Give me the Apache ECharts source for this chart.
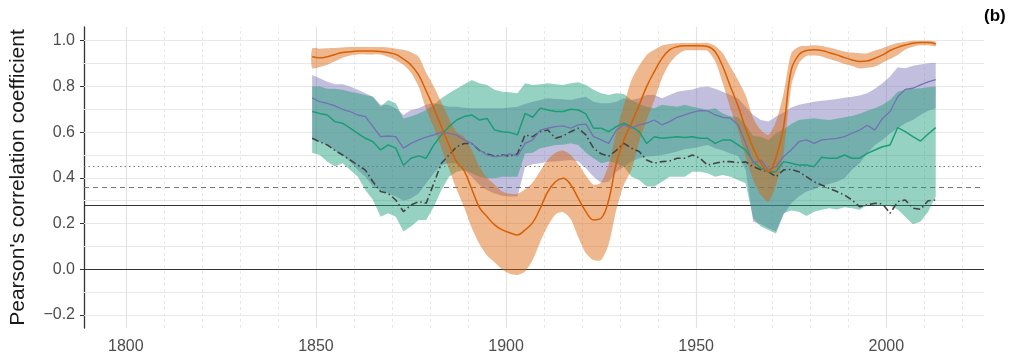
<!DOCTYPE html>
<html>
<head>
<meta charset="utf-8">
<script src="https://cdn.jsdelivr.net/npm/echarts@6/dist/echarts.min.js"></script>
<style>
  html, body { margin: 0; padding: 0; background: #fff; }
  #chart { width: 1015px; height: 362px; }
</style>
</head>
<body>
<div id="chart"></div>
<script>
// years sampled every two years
const years = [
  1849,1851,1853,1855,1857,1859,1861,1863,1865,1867,
  1869,1871,1873,1875,1877,1879,1881,1883,1885,1887,
  1889,1891,1893,1895,1897,1899,1901,1903,1905,1907,
  1909,1911,1913,1915,1917,1919,1921,1923,1925,1927,
  1929,1931,1933,1935,1937,1939,1941,1943,1945,1947,
  1949,1951,1953,1955,1957,1959,1961,1963,1965,1967,
  1969,1971,1973,1975,1977,1979,1981,1983,1985,1987,
  1989,1991,1993,1995,1997,1999,2001,2003,2005,2007,
  2009,2011,2013
];

const orange = [
  0.93,0.925,0.93,0.94,0.948,0.952,0.955,0.955,0.955,0.953,
  0.948,0.94,0.92,0.894,0.85,0.78,0.705,0.624,0.544,0.47,
  0.43,0.35,0.27,0.23,0.194,0.172,0.16,0.15,0.172,0.204,
  0.267,0.34,0.383,0.398,0.37,0.31,0.252,0.216,0.223,0.303,
  0.464,0.566,0.64,0.718,0.80,0.865,0.923,0.96,0.974,0.978,
  0.978,0.978,0.975,0.952,0.887,0.80,0.715,0.617,0.53,0.464,
  0.427,0.49,0.624,0.872,0.938,0.957,0.96,0.957,0.948,0.938,
  0.926,0.916,0.909,0.911,0.923,0.938,0.957,0.971,0.981,0.989,
  0.992,0.992,0.986
];
const orangeLo = [
  0.88,0.885,0.895,0.91,0.925,0.935,0.94,0.94,0.94,0.94,
  0.93,0.915,0.895,0.86,0.80,0.70,0.62,0.53,0.44,0.35,
  0.27,0.18,0.11,0.06,0.03,0.0,-0.02,-0.025,-0.01,0.04,
  0.12,0.19,0.24,0.25,0.22,0.14,0.07,0.04,0.04,0.11,
  0.26,0.37,0.435,0.558,0.653,0.74,0.835,0.90,0.938,0.957,
  0.958,0.958,0.955,0.91,0.814,0.705,0.609,0.493,0.391,0.325,
  0.296,0.369,0.508,0.80,0.90,0.933,0.935,0.931,0.92,0.91,
  0.898,0.889,0.878,0.882,0.887,0.904,0.92,0.938,0.962,0.974,
  0.98,0.98,0.977
];
const orangeHi = [
  0.965,0.965,0.967,0.968,0.97,0.972,0.972,0.972,0.972,0.972,
  0.97,0.965,0.96,0.95,0.93,0.86,0.80,0.73,0.66,0.60,
  0.58,0.52,0.45,0.40,0.37,0.34,0.33,0.33,0.35,0.38,
  0.43,0.48,0.51,0.52,0.50,0.46,0.41,0.37,0.38,0.46,
  0.60,0.72,0.828,0.89,0.938,0.96,0.979,0.986,0.989,0.99,
  0.99,0.99,0.99,0.977,0.945,0.887,0.828,0.762,0.661,0.609,
  0.588,0.646,0.77,0.945,0.974,0.977,0.98,0.977,0.97,0.962,
  0.953,0.948,0.945,0.945,0.957,0.967,0.98,0.99,0.996,1.0,
  1.0,1.0,0.996
];

const purple = [
  0.75,0.733,0.726,0.715,0.70,0.69,0.675,0.668,0.624,0.58,
  0.583,0.58,0.53,0.551,0.566,0.578,0.588,0.60,0.595,0.588,
  0.566,0.551,0.522,0.50,0.493,0.496,0.505,0.496,0.551,0.566,
  0.609,0.617,0.624,0.627,0.617,0.632,0.635,0.58,0.566,0.551,
  0.609,0.632,0.617,0.632,0.639,0.653,0.632,0.646,0.665,0.675,
  0.686,0.694,0.693,0.675,0.665,0.661,0.632,0.551,0.464,0.478,
  0.435,0.449,0.493,0.522,0.558,0.566,0.551,0.566,0.569,0.573,
  0.58,0.595,0.609,0.63,0.609,0.66,0.69,0.755,0.787,0.792,
  0.807,0.82,0.83
];
const purpleLo = [
  0.573,0.558,0.544,0.52,0.50,0.47,0.434,0.405,0.362,0.347,
  0.332,0.318,0.30,0.31,0.332,0.376,0.42,0.456,0.464,0.464,
  0.434,0.405,0.369,0.347,0.332,0.322,0.318,0.318,0.449,0.46,
  0.464,0.47,0.472,0.475,0.478,0.471,0.442,0.405,0.379,0.383,
  0.427,0.449,0.471,0.486,0.493,0.496,0.50,0.507,0.515,0.525,
  0.53,0.536,0.544,0.53,0.52,0.507,0.496,0.435,0.208,0.197,
  0.179,0.165,0.238,0.289,0.318,0.34,0.35,0.365,0.373,0.383,
  0.398,0.435,0.464,0.508,0.544,0.566,0.595,0.617,0.639,0.653,
  0.675,0.694,0.704
];
const purpleHi = [
  0.85,0.836,0.82,0.81,0.81,0.80,0.785,0.77,0.755,0.72,
  0.72,0.705,0.675,0.697,0.705,0.72,0.726,0.72,0.711,0.711,
  0.707,0.705,0.705,0.705,0.705,0.705,0.708,0.711,0.723,0.733,
  0.741,0.748,0.745,0.744,0.741,0.748,0.755,0.733,0.726,0.726,
  0.733,0.748,0.741,0.748,0.762,0.762,0.748,0.762,0.777,0.782,
  0.787,0.796,0.80,0.79,0.777,0.762,0.748,0.711,0.675,0.653,
  0.646,0.668,0.686,0.708,0.72,0.726,0.733,0.737,0.741,0.745,
  0.75,0.755,0.76,0.77,0.79,0.814,0.843,0.884,0.88,0.89,
  0.896,0.901,0.904
];

const green = [
  0.69,0.682,0.675,0.646,0.639,0.617,0.595,0.573,0.558,0.522,
  0.544,0.53,0.455,0.486,0.496,0.486,0.544,0.588,0.624,0.653,
  0.668,0.675,0.653,0.66,0.609,0.602,0.598,0.588,0.682,0.665,
  0.705,0.697,0.69,0.69,0.70,0.697,0.68,0.617,0.617,0.602,
  0.624,0.639,0.624,0.602,0.55,0.58,0.573,0.577,0.58,0.577,
  0.58,0.573,0.573,0.551,0.566,0.566,0.544,0.522,0.471,0.442,
  0.427,0.427,0.471,0.464,0.456,0.456,0.449,0.49,0.486,0.486,
  0.50,0.486,0.486,0.507,0.522,0.536,0.544,0.62,0.602,0.58,
  0.561,0.592,0.62
];
const greenLo = [
  0.51,0.50,0.47,0.45,0.464,0.434,0.405,0.347,0.303,0.23,
  0.245,0.23,0.165,0.187,0.216,0.216,0.274,0.347,0.405,0.427,
  0.434,0.42,0.405,0.398,0.398,0.405,0.405,0.405,0.507,0.51,
  0.53,0.536,0.544,0.545,0.551,0.544,0.51,0.486,0.464,0.471,
  0.464,0.449,0.405,0.391,0.362,0.362,0.383,0.405,0.405,0.405,
  0.427,0.427,0.42,0.405,0.412,0.405,0.391,0.376,0.223,0.187,
  0.172,0.157,0.245,0.257,0.252,0.233,0.252,0.26,0.267,0.262,
  0.271,0.267,0.26,0.281,0.277,0.277,0.277,0.262,0.23,0.197,
  0.208,0.252,0.318
];
const greenHi = [
  0.80,0.80,0.79,0.79,0.785,0.777,0.77,0.762,0.755,0.711,
  0.741,0.726,0.66,0.668,0.682,0.697,0.72,0.748,0.77,0.79,
  0.81,0.828,0.814,0.806,0.785,0.777,0.774,0.77,0.814,0.806,
  0.81,0.814,0.81,0.806,0.814,0.818,0.806,0.785,0.77,0.762,
  0.77,0.767,0.741,0.723,0.711,0.705,0.72,0.715,0.711,0.72,
  0.711,0.705,0.697,0.705,0.682,0.67,0.665,0.632,0.583,0.58,
  0.566,0.595,0.613,0.636,0.653,0.658,0.661,0.656,0.653,0.659,
  0.665,0.671,0.68,0.694,0.705,0.72,0.741,0.777,0.785,0.79,
  0.792,0.796,0.80
];

const dashed = [
  0.573,0.558,0.544,0.52,0.50,0.478,0.456,0.434,0.383,0.34,
  0.332,0.303,0.252,0.281,0.296,0.289,0.376,0.464,0.50,0.536,
  0.55,0.55,0.52,0.505,0.495,0.50,0.495,0.505,0.588,0.58,
  0.602,0.609,0.573,0.583,0.602,0.617,0.588,0.53,0.505,0.495,
  0.52,0.551,0.53,0.515,0.478,0.464,0.471,0.474,0.486,0.486,
  0.50,0.486,0.456,0.464,0.471,0.471,0.467,0.47,0.449,0.435,
  0.427,0.405,0.435,0.437,0.427,0.405,0.383,0.369,0.354,0.34,
  0.325,0.303,0.274,0.281,0.289,0.286,0.245,0.296,0.303,0.267,
  0.262,0.30,0.303
];

// significance thresholds (horizontal reference lines)
const thresholds = [0, 0.28, 0.36, 0.45];

const xLabels = [1800, 1850, 1900, 1950, 2000];
const xMinor = [1810,1820,1830,1840,1860,1870,1880,1890,1910,1920,1930,1940,1960,1970,1980,1990,2010,2020];
const yLabels = [-0.2, 0, 0.2, 0.4, 0.6, 0.8, 1.0];
const yGrid = [-0.2,-0.1,0,0.1,0.2,0.3,0.4,0.5,0.6,0.7,0.8,0.9,1.0];

function pairs(vals) {
  return years.map((y, i) => [y, vals[i]]);
}

// confidence ribbon drawn as one polygon through the axis scales
function band(key, lo, hi, color, smooth) {
  return {
    type: 'custom',
    name: key,
    silent: true,
    z: 3,
    data: years.map((y, i) => [y, lo[i], hi[i]]),
    encode: { x: 0, y: [1, 2] },
    renderItem: function (params, api) {
      if (params.dataIndex !== 0) return;
      const top = years.map((y, i) => api.coord([y, hi[i]]));
      const bottom = years.map((y, i) => api.coord([y, lo[i]])).reverse();
      const shape = { points: top.concat(bottom) };
      if (smooth) shape.smooth = smooth;
      return {
        type: 'polygon',
        shape: shape,
        style: { fill: color, stroke: null }
      };
    }
  };
}

const gridLines = []
  .concat(yGrid.map(v => ({ yAxis: v, lineStyle: { color: '#e8e8e8', width: 1, type: 'solid' } })))
  .concat(xLabels.map(v => ({ xAxis: v, lineStyle: { color: '#e3e3e3', width: 1.2, type: 'solid' } })))
  .concat(xMinor.map(v => ({ xAxis: v, lineStyle: { color: '#e8e8e8', width: 1, type: [3, 3] } })));

const refStyles = [
  { color: '#333', width: 1.2, type: 'solid' },
  { color: '#333', width: 1.2, type: 'solid' },
  { color: '#777', width: 1.2, type: [5, 4] },
  { color: '#777', width: 1.2, type: [1.5, 3] }
];
const refLines = thresholds.map((v, i) => ({ yAxis: v, lineStyle: refStyles[i] }));

const chart = echarts.init(document.getElementById('chart'));

chart.setOption({
  animation: false,
  backgroundColor: '#fff',
  textStyle: { fontFamily: 'Liberation Sans, Arial, sans-serif' },
  grid: { left: 84, right: 31, top: 27, bottom: 34, containLabel: false, outerBoundsMode: 'none' },
  graphic: [
    { type: 'text', left: 984, top: 8,
      style: { text: '(b)', font: 'bold 17px Liberation Sans, Arial, sans-serif', fill: '#000' } }
  ],
  xAxis: {
    type: 'value',
    min: 1789,
    max: 2025.7,
    axisLine: { show: false },
    axisTick: { show: false },
    splitLine: { show: false },
    axisLabel: {
      customValues: xLabels,
      color: '#4d4d4d',
      fontSize: 16,
      margin: 11,
      formatter: v => String(v)
    }
  },
  yAxis: {
    type: 'value',
    min: -0.257,
    max: 1.06,
    name: "Pearson's correlation coefficient",
    nameLocation: 'middle',
    nameGap: 55,
    nameTextStyle: { color: '#1a1a1a', fontSize: 21 },
    axisLine: { show: true, lineStyle: { color: '#333', width: 1.3 } },
    axisTick: { show: true, customValues: yLabels, length: 4, lineStyle: { color: '#333' } },
    splitLine: { show: false },
    axisLabel: {
      customValues: yLabels,
      color: '#4d4d4d',
      fontSize: 16,
      margin: 9,
      formatter: v => (v < 0 ? '\u2212' : '') + Math.abs(v).toFixed(1)
    }
  },
  series: [
    { type: 'line', name: 'grid', data: [], z: 1, silent: true,
      markLine: { z: 1, silent: true, symbol: ['none', 'none'], label: { show: false }, data: gridLines } },
    { type: 'line', name: 'thresholds', data: [], z: 2, silent: true,
      markLine: { z: 2, silent: true, symbol: ['none', 'none'], label: { show: false }, data: refLines } },
    band('purpleBand', purpleLo, purpleHi, 'rgba(117,112,179,0.45)', 0),
    band('greenBand', greenLo, greenHi, 'rgba(27,158,119,0.46)', 0),
    band('orangeBand', orangeLo, orangeHi, 'rgba(217,95,2,0.45)', 0.25),
    { type: 'line', name: 'dashdot', data: pairs(dashed), symbol: 'none', z: 4,
      lineStyle: { color: '#444', width: 1.6, type: [7, 3, 1.5, 3] } },
    { type: 'line', name: 'green', data: pairs(green), symbol: 'none', z: 4,
      lineStyle: { color: '#1b9e77', width: 1.5 } },
    { type: 'line', name: 'purple', data: pairs(purple), symbol: 'none', z: 4,
      lineStyle: { color: '#7570b3', width: 1.3 } },
    { type: 'line', name: 'orange', data: pairs(orange), symbol: 'none', smooth: 0.4, z: 5,
      lineStyle: { color: '#d95f02', width: 1.5 } }
  ]
});
</script>
</body>
</html>
